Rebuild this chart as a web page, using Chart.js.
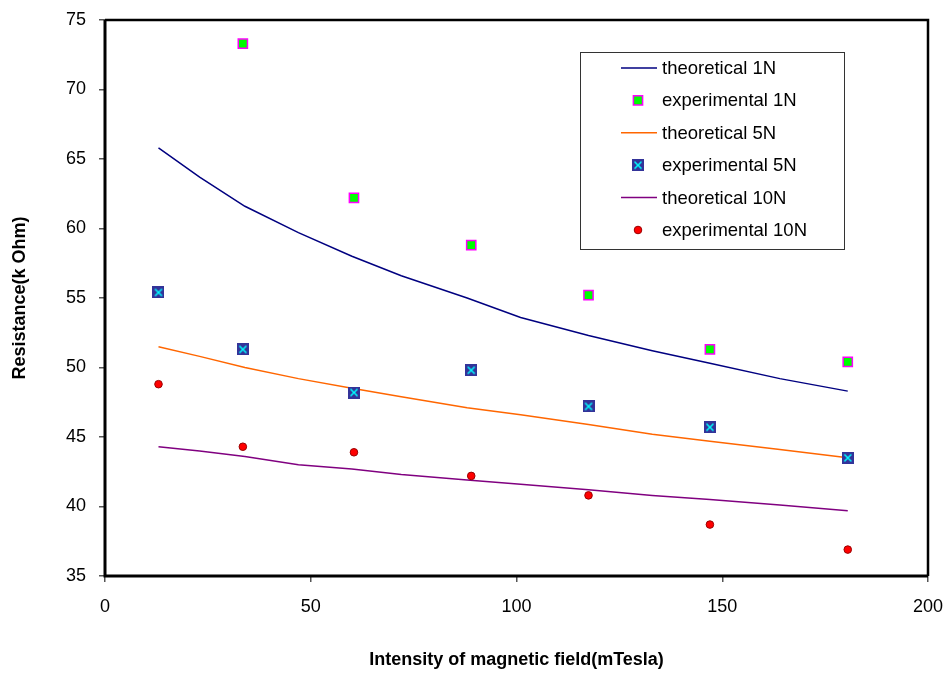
<!DOCTYPE html>
<html>
<head>
<meta charset="utf-8">
<script src="https://cdn.jsdelivr.net/npm/chart.js@4.4.1/dist/chart.umd.min.js"></script>
<style>
  html, body { margin: 0; padding: 0; background: #fff; }
</style>
</head>
<body>
<canvas id="myChart" width="948" height="674"></canvas>
<script>
// Magnetic field (mTesla) where the samples were measured
const fieldExp = [13, 33.5, 60.5, 89, 117.5, 147, 180.5];
// Points along the theoretical curves
const fieldTheo = [13, 23, 34, 47, 60, 72, 88, 101, 117.5, 133, 147, 164, 180.5];

// Resistance (k Ohm)
const theo1N = [65.8, 63.7, 61.6, 59.7, 58.0, 56.6, 55.0, 53.6, 52.3, 51.2, 50.3, 49.2, 48.3];
const exp1N = [null, 73.3, 62.2, 58.8, 55.2, 51.3, 50.4];
const theo5N = [51.5, 50.8, 50.0, 49.2, 48.5, 47.9, 47.1, 46.6, 45.9, 45.2, 44.7, 44.1, 43.5];
const exp5N = [55.4, 51.3, 48.2, 49.8, 47.2, 45.7, 43.5];
const theo10N = [44.3, 44.0, 43.6, 43.0, 42.7, 42.3, 41.9, 41.6, 41.2, 40.8, 40.5, 40.1, 39.7];
const exp10N = [48.8, 44.3, 43.9, 42.2, 40.8, 38.7, 36.9];

const xTicks = [0, 50, 100, 150, 200];
const yTicks = [35, 40, 45, 50, 55, 60, 65, 70, 75];

const FONT = "'Liberation Sans', Arial, sans-serif";

const toPoints = (xs, ys) => xs.map((x, i) => ({x: x, y: ys[i]})).filter(p => p.y !== null);

//Navy box with a cyan cross for the 5N samples:
const crossBox = document.createElement("canvas");
crossBox.width = 12;
crossBox.height = 12;
(function () {
    const c = crossBox.getContext("2d");
    c.fillStyle = "#333399";
    c.fillRect(0, 0, 12, 12);
    c.strokeStyle = "#00FFFF";
    c.lineWidth = 1.5;
    c.beginPath();
    c.moveTo(2.5, 2.5); c.lineTo(9.5, 9.5);
    c.moveTo(9.5, 2.5); c.lineTo(2.5, 9.5);
    c.stroke();
})();

//Frame + legend box:
const framePlugin = {
    id: "frame",
    afterDraw(chart) {
        const {ctx, chartArea: a} = chart;
        ctx.save();
        ctx.strokeStyle = "#000";
        ctx.lineWidth = 2.5;
        ctx.beginPath();
        ctx.moveTo(a.left, a.top); ctx.lineTo(a.right, a.top); ctx.lineTo(a.right, a.bottom);
        ctx.stroke();
        ctx.lineWidth = 3;
        ctx.beginPath();
        ctx.moveTo(a.left, a.top); ctx.lineTo(a.left, a.bottom); ctx.lineTo(a.right, a.bottom);
        ctx.stroke();

        // legend
        const box = {x: 580, y: 52, w: 264, h: 197};
        ctx.fillStyle = "#fff";
        ctx.fillRect(box.x, box.y, box.w, box.h);
        ctx.strokeStyle = "#333";
        ctx.lineWidth = 1;
        ctx.strokeRect(box.x + 0.5, box.y + 0.5, box.w, box.h);

        ctx.font = "18.5px " + FONT;
        ctx.textBaseline = "middle";
        chart.data.datasets.forEach((ds, i) => {
            const y = 68 + i * 32.4;
            if (ds.showLine) {
                ctx.strokeStyle = ds.borderColor;
                ctx.lineWidth = ds.borderWidth;
                ctx.beginPath();
                ctx.moveTo(621, y); ctx.lineTo(657, y);
                ctx.stroke();
            } else if (ds.pointStyle === crossBox) {
                ctx.drawImage(crossBox, 632, y - 6);
            } else {
                ctx.fillStyle = ds.pointBackgroundColor;
                ctx.strokeStyle = ds.pointBorderColor;
                ctx.lineWidth = ds.pointBorderWidth;
                ctx.beginPath();
                if (ds.pointStyle === "rect") {
                    const s = Math.SQRT1_2 * ds.pointRadius;
                    ctx.rect(638 - s, y - s, 2 * s, 2 * s);
                } else {
                    ctx.arc(638, y, ds.pointRadius, 0, Math.PI * 2);
                }
                ctx.fill();
                ctx.stroke();
            }
            ctx.fillStyle = "#000";
            ctx.fillText(ds.label, 662, y + 1);
        });
        ctx.restore();
    }
};

const theoLine = (label, color, ys) => ({
    label: label,
    data: toPoints(fieldTheo, ys),
    showLine: true,
    borderColor: color,
    borderWidth: 1.5,
    pointRadius: 0,
    tension: 0,
    order: 2
});

const noSidePad = s => { s.paddingLeft = 0; s.paddingRight = 0; s.paddingTop = 0; s.paddingBottom = 0; };

const ctx = document.getElementById("myChart").getContext("2d");

const chart = new Chart(ctx, {
    type: "scatter",
    data: {
        datasets: [
            theoLine("theoretical 1N", "#000080", theo1N),
            {
                label: "experimental 1N",
                data: toPoints(fieldExp, exp1N),
                showLine: false,
                pointStyle: "rect",
                pointRadius: 6.5,
                pointBackgroundColor: "#00FF00",
                pointBorderColor: "#FF00FF",
                pointBorderWidth: 1.5,
                order: 1
            },
            theoLine("theoretical 5N", "#FF6600", theo5N),
            {
                label: "experimental 5N",
                data: toPoints(fieldExp, exp5N),
                showLine: false,
                pointStyle: crossBox,
                pointRadius: 6,
                pointBackgroundColor: "#333399",
                pointBorderColor: "#333399",
                pointBorderWidth: 0,
                order: 1
            },
            theoLine("theoretical 10N", "#800080", theo10N),
            {
                label: "experimental 10N",
                data: toPoints(fieldExp, exp10N),
                showLine: false,
                pointStyle: "circle",
                pointRadius: 3.8,
                pointBackgroundColor: "#FF0000",
                pointBorderColor: "#990000",
                pointBorderWidth: 1,
                order: 1
            }
        ]
    },
    options: {
        responsive: false,
        animation: false,
        devicePixelRatio: 1,
        layout: { padding: { left: 0, top: 20, right: 20, bottom: 0 } },
        plugins: {
            legend: { display: false },
            tooltip: { enabled: false }
        },
        scales: {
            x: {
                type: "linear",
                min: 0,
                max: 200,
                afterBuildTicks: s => { s.ticks = xTicks.map(v => ({value: v})); },
                afterFit: s => { s.height = 98; noSidePad(s); },
                border: { display: false },
                grid: { drawOnChartArea: false, drawTicks: true, tickLength: 6, color: "#555", lineWidth: 1.5 },
                ticks: { color: "#000", font: { family: FONT, size: 18 }, padding: 14, maxRotation: 0 },
                title: {
                    display: true,
                    text: "Intensity of magnetic field(mTesla)",
                    color: "#000",
                    font: { family: FONT, size: 18, weight: "bold" },
                    padding: { top: 0, bottom: 3 }
                }
            },
            y: {
                type: "linear",
                min: 35,
                max: 75,
                afterBuildTicks: s => { s.ticks = yTicks.map(v => ({value: v})); },
                afterFit: s => { s.width = 105; noSidePad(s); },
                border: { display: false },
                grid: { drawOnChartArea: false, drawTicks: true, tickLength: 6, color: "#555", lineWidth: 1.5 },
                ticks: { color: "#000", font: { family: FONT, size: 18 }, padding: 13 },
                title: {
                    display: true,
                    text: "Resistance(k Ohm)",
                    color: "#000",
                    font: { family: FONT, size: 18, weight: "bold" },
                    padding: { top: 9, bottom: 0 }
                }
            }
        }
    },
    plugins: [framePlugin]
});
</script>
</body>
</html>
